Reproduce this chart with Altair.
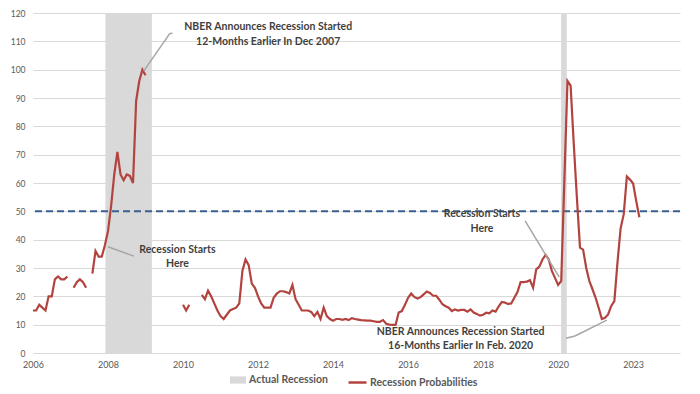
import altair as alt
import pandas as pd

START_YEAR = 2006  # first monthly observation: Jan 2006

# Monthly recession probabilities (%), None = no value shown
probabilities = [
    15, 15, 17, 16, 15, 20, 20, 26, 27, 26, 26, 27,            # 2006
    None, 23, 25, 26, 25, 23, None,                            # 2007 Jan-Jul
    28, 36, 34, 34, 38,                                        # 2007 Aug-Dec
    43, 52, 63, 71, 63, 61, 63, 62.5, 60, 89, 96, 100,         # 2008
    98,                                                        # 2009 Jan
    None, None, None, None, None, None, None, None, None, None, None,  # 2009 Feb-Dec
    17, 15, 17, None, None, None,                              # 2010 Jan-Jun
    20.5, 19, 22, 20, 17.5, 15,                                # 2010 Jul-Dec
    13, 12, 13.5, 15, 15.5, 16, 17.5, 29, 33, 31, 24.5, 23,    # 2011
    20, 17.5, 16, 16, 16, 19.5, 21, 21.8, 21.8, 21.5, 21, 24,  # 2012
    19, 17, 15, 15, 15, 14.5, 13, 14.5, 12, 16, 13, 12,        # 2013
    11.4, 12, 12, 11.7, 12, 11.6, 12.3, 12, 11.8, 11.6, 11.5, 11.4,  # 2014
    11.4, 11.2, 11, 11, 11.6, 10.3, 10, 9.9, 9.9, 14.3, 14.8, 17,    # 2015
    19.5, 21, 19.8, 19.2, 19.7, 20.7, 21.7, 21.2, 20.2, 20.2, 18.8, 17.2,  # 2016
    16.5, 16, 14.8, 15.4, 15, 15.2, 15.2, 14.6, 15.4, 14.3, 13.8, 13.2,    # 2017
    13.5, 14.2, 14, 15, 14.6, 16.5, 18, 17.8, 17.3, 17.5, 19.5, 21.5,      # 2018
    25, 25, 25.2, 25.7, 23, 29.5, 30.5, 33, 34.6, 33, 29, 26.5,            # 2019
    24, 25.4, 61, 96, 94.4, 74, 55, 37.2, 36.5, 30, 25.4, 22.5,            # 2020
    19.5, 15.9, 12, 12.4, 13.6, 16.6, 18.3, 32, 44, 49, 62.3, 61.2,        # 2021
    59.8, 53.6, 47.9,                                                      # 2022
]

recession_start = [2007.93, 2020.08]
recession_end = [2009.17, 2020.23]
threshold = [50]

tick_years = [2006, 2008, 2010, 2012, 2014, 2016, 2018, 2020, 2022]

# annotation texts
ann_text = [
    "NBER Announces Recession Started", "12-Months Earlier In Dec 2007",
    "Recession Starts", "Here",
    "Recession Starts", "Here",
    "NBER Announces Recession Started", "16-Months Earlier In Feb. 2020",
]
ann_x = [2012.27, 2012.27, 2009.85, 2009.85, 2017.97, 2017.97, 2017.40, 2017.40]
ann_y = [115.0, 109.8, 36.4, 31.4, 49.0, 43.8, 7.5, 2.6]

# leader lines
lead_x = [2008.95, 2009.65, 2008.00, 2019.12, 2020.21, 2020.45]
lead_y = [99.5, 112.8, 37.5, 46.6, 5.2, 6.0]
lead_x2 = [2009.65, 2009.72, 2008.69, 2020.03, 2020.45, 2021.30]
lead_y2 = [112.8, 112.8, 34.2, 26.8, 6.0, 11.6]

# ---------------------------------------------------------------
rows = []
seg = 0
for i, v in enumerate(probabilities):
    if v is None:
        seg += 1
        continue
    rows.append({"x": START_YEAR + i / 12, "p": v, "seg": seg,
                 "series": "Recession Probabilities"})
line_df = pd.DataFrame(rows)

rec_df = pd.DataFrame({"x": recession_start, "x2": recession_end,
                       "label": ["Actual Recession"] * len(recession_start)})
thr_df = pd.DataFrame({"y": threshold})
ann_df = pd.DataFrame({"t": ann_text, "x": ann_x, "y": ann_y})
lead_df = pd.DataFrame({"x": lead_x, "y": lead_y, "x2": lead_x2, "y2": lead_y2})

FONT = "Lato"
W, H = 647, 340
xscale = alt.Scale(domain=[2006, 2023.25], nice=False, zero=False)
yscale = alt.Scale(domain=[0, 120], nice=False)

xaxis = alt.Axis(values=tick_years, labelExpr="datum.value == 2022 ? '2023' : datum.value",
                 grid=False, ticks=False, domain=False, labelPadding=7, labelOverlap=False,
                 labelFlush=False, labelBound=False,
                 labelFont=FONT, labelFontSize=9, labelColor="#595959", title=None)
yaxis = alt.Axis(values=list(range(0, 121, 10)), grid=True, gridColor="#d9d9d9",
                 ticks=False, domain=False, labelPadding=8, labelOverlap=False,
                 labelFlush=False,
                 labelFont=FONT, labelFontSize=8.5, labelColor="#595959", title=None)

X = lambda f: alt.X(f, scale=xscale, axis=xaxis)
Y = lambda f: alt.Y(f, scale=yscale, axis=yaxis)

rects = alt.Chart(rec_df).mark_rect(opacity=1).encode(
    x=X("x:Q"),
    x2="x2:Q",
    y=alt.value(0),
    y2=alt.value(H),
    fill=alt.Fill("label:N", scale=alt.Scale(domain=["Actual Recession"], range=["#d9d9d9"]),
                  legend=alt.Legend(orient="none", legendX=197, legendY=359, title=None,
                                    symbolType="M-1,-0.45H1V0.45H-1Z", symbolSize=256,
                                    symbolStrokeWidth=0, labelOffset=3, padding=0,
                                    labelFont=FONT, labelFontSize=10.5, labelFontWeight="bold",
                                    labelColor="#595959")),
)

thr = alt.Chart(thr_df).mark_rule(color="#3b5f91", strokeWidth=2, strokeDash=[7, 4]).encode(
    y=Y("y:Q")
)

line = alt.Chart(line_df).mark_line(strokeWidth=2.2).encode(
    x=X("x:Q"),
    y=Y("p:Q"),
    detail="seg:N",
    stroke=alt.Stroke("series:N", scale=alt.Scale(domain=["Recession Probabilities"], range=["#b3433e"]),
                      legend=alt.Legend(orient="none", legendX=314, legendY=359, title=None,
                                        symbolType="stroke", symbolSize=324, symbolStrokeWidth=2.5,
                                        labelOffset=2, padding=0,
                                        labelFont=FONT, labelFontSize=10.5, labelFontWeight="bold",
                                        labelColor="#595959")),
)

leads = alt.Chart(lead_df).mark_rule(color="#a6a6a6", strokeWidth=1.5).encode(
    x=X("x:Q"), y=Y("y:Q"), x2="x2:Q", y2="y2:Q",
)

texts = alt.Chart(ann_df).mark_text(font=FONT, fontSize=10.5, fontWeight="bold",
                                    color="#3f3f3f", align="center", baseline="middle").encode(
    x=X("x:Q"), y=Y("y:Q"), text="t:N"
)

chart = alt.layer(rects, thr, line, leads, texts).resolve_scale(
    fill="independent", stroke="independent"
).properties(
    width=W, height=H,
    autosize=alt.AutoSizeParams(type="none"),
    padding={"left": 25, "top": 5, "right": 12, "bottom": 33},
    background="white",
).configure_view(stroke=None)

chart.save("out.html", embed_options={"renderer": "svg", "actions": False})
